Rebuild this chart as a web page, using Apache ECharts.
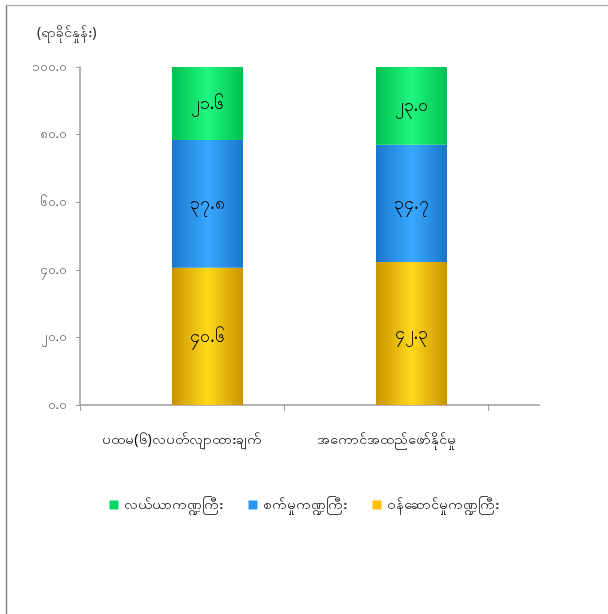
<!DOCTYPE html>
<html>
<head>
<meta charset="utf-8">
<script src="https://cdn.jsdelivr.net/npm/echarts@6/dist/echarts.min.js"></script>
<style>html,body{margin:0;padding:0;background:#fff}#c{width:608px;height:614px}</style>
</head>
<body>
<div id="c"></div>
<script>
var categories = ['ပထမ(၆)လပတ်လျာထားချက်', 'အကောင်အထည်ဖော်နိုင်မှု'];
var seriesNames = ['လယ်ယာကဏ္ဍကြီး', 'စက်မှုကဏ္ဍကြီး', 'ဝန်ဆောင်မှုကဏ္ဍကြီး'];
var agriculture = [21.6, 23.0];
var industry = [37.8, 34.7];
var services = [40.6, 42.3];
var yTicks = [0, 20, 40, 60, 80, 100];
var unitLabel = '(ရာခိုင်နှုန်း)';

var MY = ['၀','၁','၂','၃','၄','၅','၆','၇','၈','၉'];
function toMy(s){ return String(s).replace(/[0-9]/g, function(d){ return MY[+d]; }); }
function grad(edge, mid){
  return new echarts.graphic.LinearGradient(0,0,1,0,[
    {offset:0,color:edge},{offset:0.5,color:mid},{offset:1,color:edge}]);
}
var FONT = 'Noto Sans, DejaVu Sans, sans-serif';
var chart = echarts.init(document.getElementById('c'), null, {renderer:'canvas'});
var labelCfg = {show:true, position:'inside', color:'#000', fontSize:18, fontFamily:FONT,
  formatter:function(p){ return toMy(p.value.toFixed(1)); }};
function mk(name, data, edge, mid){
  return {name:name, type:'bar', stack:'a', xAxisIndex:1, yAxisIndex:1, barWidth:71,
    data:data, itemStyle:{color:grad(edge, mid)}, label:labelCfg};
}
chart.setOption({
  animation:false,
  textStyle:{fontFamily:FONT},
  grid:[
    {left:80, right:120, top:67, bottom:209},
    {left:105.5, right:94.5, top:67, bottom:209}
  ],
  xAxis:[
    {type:'category', gridIndex:0, data:categories,
     axisLine:{lineStyle:{color:'#9a9a9a', width:1.5}},
     axisTick:{show:true, interval:0, length:6, lineStyle:{color:'#9a9a9a'}},
     axisLabel:{interval:0, color:'#000', fontSize:14, margin:28, fontFamily:FONT}},
    {type:'category', gridIndex:1, data:categories, show:false}
  ],
  yAxis:[
    {type:'value', gridIndex:0, min:0, max:100, interval:20,
     axisLine:{show:true, lineStyle:{color:'#9a9a9a', width:1.5}},
     axisTick:{show:true, length:4, lineStyle:{color:'#9a9a9a'}},
     splitLine:{show:false},
     axisLabel:{color:'#595959', fontSize:13, margin:13, fontFamily:FONT,
       formatter:function(v){ return toMy(v.toFixed(1)); }}},
    {type:'value', gridIndex:1, min:0, max:100, show:false, splitLine:{show:false}}
  ],
  legend:{
    data:[
      {name:seriesNames[0], itemStyle:{color:'#00d860'}},
      {name:seriesNames[1], itemStyle:{color:'#2a96f0'}},
      {name:seriesNames[2], itemStyle:{color:'#ffc000'}}
    ],
    left:'center', top:493, itemWidth:9, itemHeight:9, itemGap:26,
    icon:'rect', textStyle:{color:'#000', fontSize:14, fontFamily:FONT}
  },
  series:[
    mk(seriesNames[2], services, '#c99300', '#ffd91a'),
    mk(seriesNames[1], industry, '#1976cc', '#39a9ff'),
    mk(seriesNames[0], agriculture, '#00c050', '#20f77f')
  ],
  graphic:[
    {type:'line', shape:{x1:6.5,y1:5.5,x2:608,y2:5.5}, style:{stroke:'#b4b4b4', lineWidth:1.5}},
    {type:'line', shape:{x1:6.5,y1:5.5,x2:6.5,y2:614}, style:{stroke:'#858585', lineWidth:1.5}},
    {type:'line', shape:{x1:488,y1:405,x2:540,y2:405}, style:{stroke:'#9a9a9a', lineWidth:1.5}},
    {type:'text', left:37, top:26, style:{text:unitLabel, fill:'#222', font:'14px ' + FONT}}
  ]
});
</script>
</body>
</html>
